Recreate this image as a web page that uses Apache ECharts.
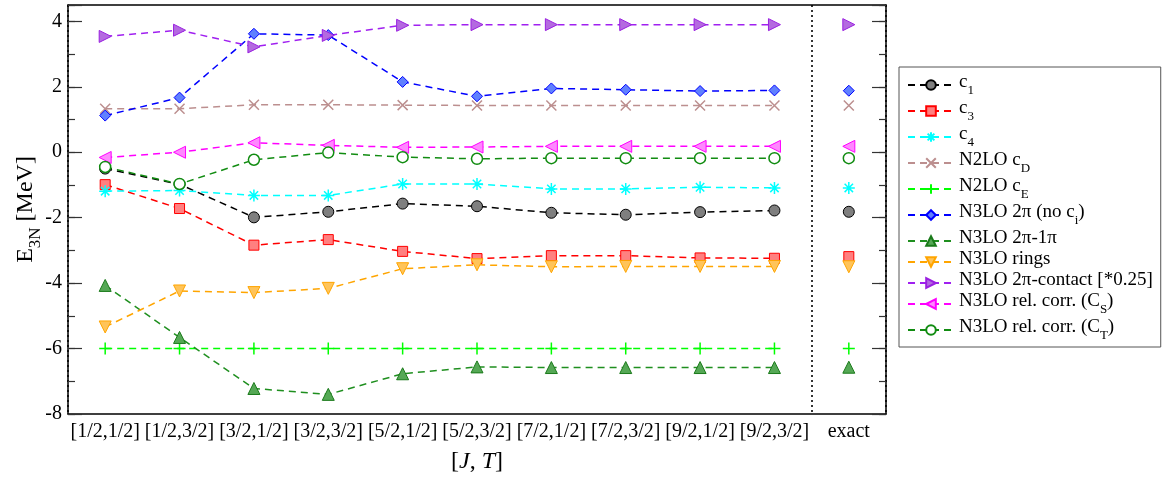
<!DOCTYPE html>
<html>
<head>
<meta charset="utf-8">
<script src="https://cdn.jsdelivr.net/npm/echarts@6/dist/echarts.min.js"></script>
<style>
  html, body { margin: 0; padding: 0; background: #fff; }
  #chart { width: 1163px; height: 478px; }
</style>
</head>
<body>
<div id="chart"></div>
<script>
var categories = ["[1/2,1/2]", "[1/2,3/2]", "[3/2,1/2]", "[3/2,3/2]", "[5/2,1/2]",
  "[5/2,3/2]", "[7/2,1/2]", "[7/2,3/2]", "[9/2,1/2]", "[9/2,3/2]"];
var exactLabel = "exact";

var c1 = [-0.50, -0.98, -1.99, -1.82, -1.57, -1.65, -1.85, -1.91, -1.83, -1.78];
var c3 = [-0.99, -1.72, -2.84, -2.67, -3.03, -3.25, -3.16, -3.16, -3.23, -3.24];
var c4 = [-1.19, -1.17, -1.32, -1.32, -0.97, -0.97, -1.12, -1.12, -1.07, -1.09];
var cD = [1.33, 1.33, 1.45, 1.45, 1.44, 1.43, 1.43, 1.43, 1.43, 1.43];
var cE = [-6.0, -6.0, -6.0, -6.0, -6.0, -6.0, -6.0, -6.0, -6.0, -6.0];
var twoPi = [1.12, 1.67, 3.62, 3.58, 2.15, 1.71, 1.95, 1.91, 1.87, 1.89];
var twoPiOnePi = [-4.07, -5.66, -7.22, -7.40, -6.77, -6.56, -6.58, -6.58, -6.58, -6.58];
var rings = [-5.34, -4.24, -4.29, -4.16, -3.56, -3.44, -3.50, -3.49, -3.49, -3.49];
var contact = [3.54, 3.73, 3.22, 3.57, 3.88, 3.90, 3.90, 3.90, 3.90, 3.90];
var relCS = [-0.16, 0.00, 0.29, 0.21, 0.15, 0.16, 0.18, 0.18, 0.18, 0.18];
var relCT = [-0.45, -0.97, -0.23, -0.01, -0.15, -0.20, -0.18, -0.18, -0.18, -0.18];

// exact values, same order as the series above
var exactValues = [-1.82, -3.19, -1.09, 1.43, -6.0, 1.88, -6.57, -3.50, 3.90, 0.18, -0.18];

var yTicks = [-8, -6, -4, -2, 0, 2, 4];

var font = "Liberation Serif";
var asterisk = "path://M0,-10L0,10M-10,0L10,0M-7,-7L7,7M-7,7L7,-7";
var cross = "path://M-10,-10L10,10M-10,10L10,-10";
var plus = "path://M0,-10L0,10M-10,0L10,0";

var defs = [
  { name: "c1", label: "{n|c}{s|1}", data: c1, line: "#000000", fill: "#7f7f7f", border: "#000000", symbol: "circle", size: 11 },
  { name: "c3", label: "{n|c}{s|3}", data: c3, line: "#ff0000", fill: "#ff8080", border: "#ff0000", symbol: "rect", size: 10 },
  { name: "c4", label: "{n|c}{s|4}", data: c4, line: "#00ffff", fill: "#00ffff", border: "#00ffff", symbol: asterisk, size: 12, bw: 1.5 },
  { name: "N2LO cD", label: "{n|N2LO c}{s|D}", data: cD, line: "#bc8f8f", fill: "#bc8f8f", border: "#bc8f8f", symbol: cross, size: 10, bw: 1.5 },
  { name: "N2LO cE", label: "{n|N2LO c}{s|E}", data: cE, line: "#00ff00", fill: "#00ff00", border: "#00ff00", symbol: plus, size: 12, bw: 1.5 },
  { name: "N3LO 2π (no ci)", label: "{n|N3LO 2π (no c}{s|i}{n|)}", data: twoPi, line: "#0000ff", fill: "#6080ff", border: "#0000ff", symbol: "diamond", size: 11 },
  { name: "N3LO 2π-1π", label: "{n|N3LO 2π-1π}", data: twoPiOnePi, line: "#1f8f1f", fill: "#55a855", border: "#1a7a1a", symbol: "triangle", size: 12 },
  { name: "N3LO rings", label: "{n|N3LO rings}", data: rings, line: "#ffa500", fill: "#ffc45a", border: "#ffa500", symbol: "triangle", size: 12, rotate: 180 },
  { name: "N3LO 2π-contact [*0.25]", label: "{n|N3LO 2π-contact [*0.25]}", data: contact, line: "#a020f0", fill: "#b46ae0", border: "#9a20e0", symbol: "triangle", size: 12, rotate: -90 },
  { name: "N3LO rel. corr. (CS)", label: "{n|N3LO rel. corr. (C}{s|S}{n|)}", data: relCS, line: "#ff00ff", fill: "#ff88ff", border: "#ff00ff", symbol: "triangle", size: 12, rotate: 90 },
  { name: "N3LO rel. corr. (CT)", label: "{n|N3LO rel. corr. (C}{s|T}{n|)}", data: relCT, line: "#118c11", fill: "#ffffff", border: "#118c11", symbol: "circle", size: 11, bw: 1.5 }
];

var labelMap = {};
var seriesList = [];
defs.forEach(function (d) {
  labelMap[d.name] = d.label;
  seriesList.push({
    type: "line",
    name: d.name,
    data: d.data,
    symbol: d.symbol,
    symbolSize: d.size,
    symbolRotate: d.rotate || 0,
    lineStyle: { color: d.line, width: 1.5, type: [7, 5] },
    itemStyle: { color: d.fill, borderColor: d.border, borderWidth: d.bw || 1 },
    emphasis: { disabled: true },
    animation: false
  });
});
defs.forEach(function (d, i) {
  seriesList.push({
    type: "scatter",
    name: d.name,
    data: [[exactLabel, exactValues[i]]],
    symbol: d.symbol,
    symbolSize: d.size,
    symbolRotate: d.rotate || 0,
    itemStyle: { color: d.fill, borderColor: d.border, borderWidth: d.bw || 1, opacity: 1 },
    emphasis: { disabled: true },
    animation: false
  });
});

var xData = categories.concat([exactLabel]);
var axisColor = "#000";

function yHelper(position, interval, len, showLabel) {
  return {
    type: "value",
    position: position,
    min: -8,
    max: 4.5,
    interval: interval,
    axisLine: { show: showLabel, lineStyle: { color: axisColor, width: 1.5 } },
    axisTick: { show: true, inside: true, length: len, lineStyle: { color: "#333", width: 1.2 } },
    axisLabel: {
      show: showLabel,
      margin: 6,
      fontFamily: font,
      fontSize: 20,
      color: "#000",
      formatter: function (v) {
        return yTicks.indexOf(v) >= 0 ? String(v) : "";
      }
    },
    splitLine: { show: false }
  };
}

var myChart = echarts.init(document.getElementById("chart"));
var option = {
  animation: false,
  textStyle: { fontFamily: font },
  grid: { left: 68, right: 277, top: 5, bottom: 64, outerBoundsMode: "none" },
  legend: {
    orient: "vertical",
    left: 899,
    top: 67,
    padding: [6, 8, 5, 8],
    itemGap: 2,
    itemWidth: 46,
    itemHeight: 12,
    borderColor: "#555",
    borderWidth: 1,
    data: defs.map(function (d) { return d.name; }),
    formatter: function (name) { return labelMap[name]; },
    textStyle: {
      color: "#000",
      fontFamily: font,
      rich: {
        n: { fontFamily: font, fontSize: 19, lineHeight: 24, verticalAlign: "top", color: "#000" },
        s: { fontFamily: font, fontSize: 13, lineHeight: 24, verticalAlign: "bottom", color: "#000" }
      }
    }
  },
  xAxis: [
    {
      type: "category",
      data: xData,
      position: "bottom",
      name: "[{i|J}, {i|T}]",
      nameLocation: "middle",
      nameGap: 36,
      nameMoveOverlap: false,
      nameTextStyle: {
        fontFamily: font, fontSize: 24, color: "#000",
        rich: { i: { fontFamily: font, fontSize: 24, fontStyle: "italic", color: "#000" } }
      },
      axisLine: { onZero: false, lineStyle: { color: axisColor, width: 1.5 } },
      axisTick: { inside: true, alignWithLabel: true, interval: 0, length: 14, lineStyle: { color: "#333", width: 1.2 } },
      axisLabel: { interval: 0, margin: 8, fontFamily: font, fontSize: 20, color: "#000" },
      splitLine: {
        show: true,
        // boundary before the "exact" column (index 0 sits on the frame)
        interval: function (index) { return index === 0 || index === 10; },
        lineStyle: { color: "#333", width: 2, type: [2, 3] }
      }
    },
    {
      type: "category",
      data: xData,
      position: "top",
      axisLine: { onZero: false, lineStyle: { color: axisColor, width: 1.5 } },
      axisTick: { inside: true, alignWithLabel: true, interval: 0, length: 13, lineStyle: { color: "#333", width: 1.2 } },
      axisLabel: { show: false },
      splitLine: { show: false }
    }
  ],
  yAxis: [
    Object.assign(yHelper("left", 1, 7, true), {
      name: "{n|E}{s|3N}{n| [MeV]}",
      nameLocation: "middle",
      nameGap: 24,
      nameMoveOverlap: false,
      nameTextStyle: {
        color: "#000",
        rich: {
          n: { fontFamily: font, fontSize: 24, lineHeight: 30, verticalAlign: "top", color: "#000" },
          s: { fontFamily: font, fontSize: 17, lineHeight: 30, verticalAlign: "bottom", color: "#000" }
        }
      }
    }),
    yHelper("left", 2, 14, false),
    Object.assign(yHelper("right", 1, 7, false), { axisLine: { show: true, lineStyle: { color: axisColor, width: 1.5 } } }),
    yHelper("right", 2, 14, false)
  ],
  series: seriesList
};

myChart.setOption(option);
window.addEventListener("resize", function () {
  myChart.resize();
});
</script>
</body>
</html>
